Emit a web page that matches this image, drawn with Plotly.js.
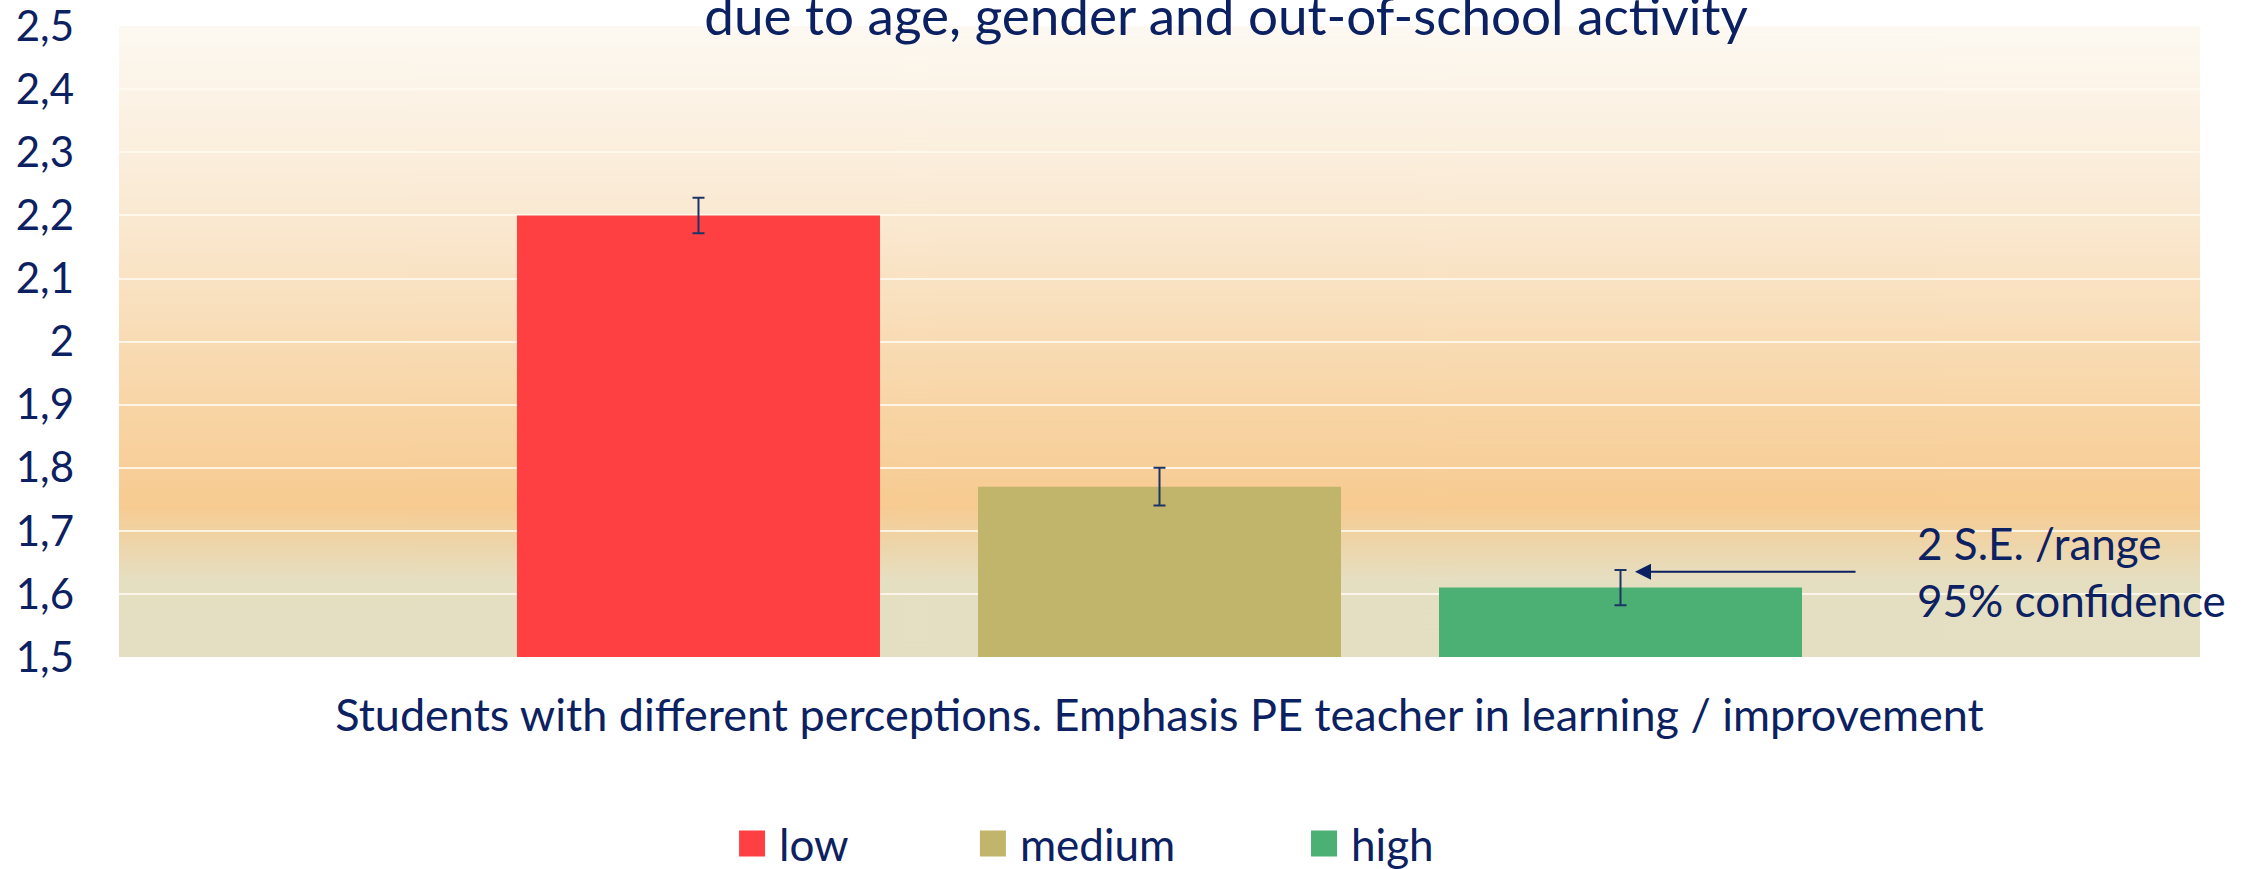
<!DOCTYPE html>
<html>
<head>
<meta charset="utf-8">
<script src="https://cdn.plot.ly/plotly-3.0.1.min.js"></script>
<style>
  html, body { margin: 0; padding: 0; background: #ffffff; }
  #chart { width: 2251px; height: 869px; }
</style>
</head>
<body>
<div id="chart"></div>
<script>
// ---- data ----
const categories = ['Students with different perceptions. Emphasis PE teacher in learning / improvement'];
const seriesNames = ['low', 'medium', 'high'];
const lowValues = [2.2];
const mediumValues = [1.77];
const highValues = [1.61];
const lowErrors = [0.028];
const mediumErrors = [0.03];
const highErrors = [0.028];
const seriesColors = ['#ff4043', '#c1b46b', '#4caf73'];
const yTickVals = [1.5, 1.6, 1.7, 1.8, 1.9, 2.0, 2.1, 2.2, 2.3, 2.4, 2.5];
const yTickText = ['1,5', '1,6', '1,7', '1,8', '1,9', '2', '2,1', '2,2', '2,3', '2,4', '2,5'];
const titleText = 'due to age, gender and out-of-school activity';
const noteLines = ['2 S.E. /range', '95% confidence'];
const noteY = 1.635;

const textColor = '#0c2161';
const fontFamily = 'Lato, "Open Sans", sans-serif';

// background gradient (plot area fill)
function gradientURL() {
  const c = document.createElement('canvas');
  c.width = 4; c.height = 631;
  const ctx = c.getContext('2d');
  const g = ctx.createLinearGradient(0, 0, 0, c.height);
  g.addColorStop(0.0, '#fdf9f2');
  g.addColorStop(0.30, '#fae9d2');
  g.addColorStop(0.60, '#f8d5a6');
  g.addColorStop(0.76, '#f7cb91');
  g.addColorStop(0.88, '#e5dfc2');
  g.addColorStop(1.0, '#e4dfc3');
  ctx.fillStyle = g;
  ctx.fillRect(0, 0, c.width, c.height);
  return c.toDataURL('image/png');
}

const valueSets = [lowValues, mediumValues, highValues];
const errorSets = [lowErrors, mediumErrors, highErrors];
const legendIds = ['legend', 'legend2', 'legend3'];
const legendX = [0.3221, 0.4291, 0.5762];

const traces = seriesNames.map((name, i) => ({
  type: 'bar',
  name: name,
  legend: legendIds[i],
  x: categories,
  y: valueSets[i],
  marker: { color: seriesColors[i], line: { width: 0 } },
  error_y: {
    type: 'data',
    array: errorSets[i],
    visible: true,
    color: '#1d3566',
    thickness: 2,
    width: 6
  },
  hoverinfo: 'skip'
}));

function legendStyle(x) {
  return {
    orientation: 'h',
    xref: 'container', yref: 'container',
    x: x, xanchor: 'left',
    y: 0.029, yanchor: 'middle',
    itemwidth: 44,
    font: { family: fontFamily, size: 44, color: textColor },
    bgcolor: 'rgba(0,0,0,0)'
  };
}

const layout = {
  width: 2251,
  height: 869,
  paper_bgcolor: '#ffffff',
  plot_bgcolor: 'rgba(0,0,0,0)',
  margin: { l: 119, r: 51, t: 26, b: 212, pad: 0, autoexpand: false },
  font: { family: fontFamily, color: textColor, size: 44 },
  barmode: 'group',
  bargap: 0.3354,
  bargroupgap: 0.2126,
  showlegend: true,
  title: {
    text: titleText,
    font: { family: fontFamily, size: 53, color: textColor },
    xref: 'container', yref: 'container',
    x: 0.5447, xanchor: 'center',
    y: 0.960, yanchor: 'bottom'
  },
  xaxis: {
    type: 'category',
    automargin: false,
    showgrid: false,
    zeroline: false,
    showline: false,
    ticks: '',
    ticklabelstandoff: 28,
    tickfont: { family: fontFamily, size: 45, color: textColor }
  },
  yaxis: {
    range: [1.5, 2.5004],
    automargin: false,
    tickvals: yTickVals,
    ticktext: yTickText,
    ticklabeloverflow: 'allow',
    showgrid: true,
    gridcolor: 'rgba(255,250,240,0.85)',
    gridwidth: 2,
    zeroline: false,
    showline: false,
    ticks: '',
    ticklabelstandoff: 44,
    tickfont: { family: fontFamily, size: 42, color: textColor }
  },
  legend: legendStyle(legendX[0]),
  legend2: legendStyle(legendX[1]),
  legend3: legendStyle(legendX[2]),
  images: [{
    source: gradientURL(),
    xref: 'paper', yref: 'paper',
    x: 0, y: 1, sizex: 1, sizey: 1,
    xanchor: 'left', yanchor: 'top',
    sizing: 'stretch',
    layer: 'below'
  }],
  annotations: [
    {
      xref: 'paper', yref: 'y',
      x: 0.7285, y: noteY,
      ax: 222, ay: 0,
      text: '',
      showarrow: true,
      arrowhead: 2,
      arrowsize: 1.6,
      arrowwidth: 2,
      arrowcolor: textColor
    },
    {
      xref: 'paper', yref: 'y',
      x: 0.863, y: noteY,
      xanchor: 'left', yanchor: 'middle',
      align: 'left',
      showarrow: false,
      text: noteLines.join('<br>'),
      font: { family: fontFamily, size: 44, color: textColor }
    }
  ]
};

Plotly.newPlot('chart', traces, layout, { displayModeBar: false, staticPlot: true }).then(() => {
  document.querySelectorAll('#chart .legendpoints path').forEach(p => {
    p.setAttribute('d', 'M13,13H-13V-13H13Z');
  });
});
</script>
</body>
</html>
